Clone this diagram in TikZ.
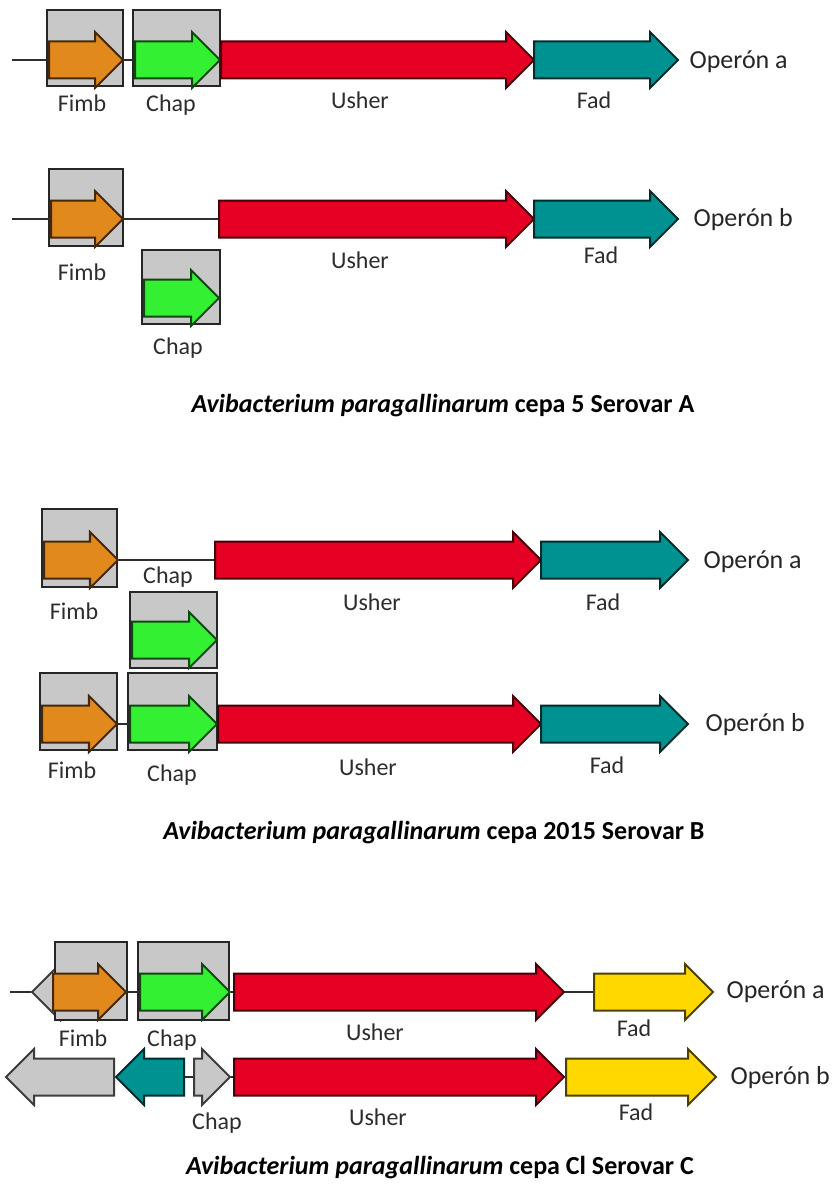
\documentclass[tikz,border=0pt]{standalone}
\usepackage{fontspec}
\setmainfont{Carlito}
\usetikzlibrary{shapes.arrows}

\definecolor{fimbcol}{RGB}{226,137,30}
\definecolor{chapcol}{RGB}{51,240,51}
\definecolor{ushercol}{RGB}{230,0,35}
\definecolor{fadcol}{RGB}{0,145,145}
\definecolor{fadyel}{RGB}{255,216,0}
\definecolor{boxgray}{RGB}{200,200,200}
\definecolor{txtgray}{RGB}{45,45,45}

\tikzset{
  gene/.style={single arrow, anchor=tail, inner sep=0pt, text height=17.5pt, text depth=17.5pt,
    single arrow head extend=9.5pt, line width=2pt, fill=#1, draw=#1!30!black},
  revgene/.style={gene=#1, shape border rotate=180},
  genebox/.style={rectangle, fill=boxgray, draw=black!85, line width=1.8pt, inner sep=0pt},
  dna/.style={draw=txtgray, line width=2pt},
  lbl/.style={font=\fontsize{24}{28}\selectfont, text=txtgray},
  operon/.style={font=\fontsize{26}{30}\selectfont, text=black!85, anchor=west},
  caption/.style={font=\bfseries\fontsize{26}{30}\selectfont}
}

\begin{document}
\begin{tikzpicture}[x=1pt, y=-1pt]
    \path[use as bounding box, fill=white] (0,0) rectangle (833,1196);

    % Serovar A, operon a
    \node[genebox, minimum width=76pt, minimum height=76pt] (boxFa) at (85,48) {};
    \node[genebox, minimum width=87pt, minimum height=76pt] (boxCa) at (176.5,48) {};
    \coordinate (startAa) at (12,60);
    \node[gene=fimbcol, minimum height=74pt] (fimbAa) at (48,60) {};
    \node[gene=chapcol, minimum height=85pt] (chapAa) at (134,60) {};
    \node[gene=ushercol, minimum height=313pt] (usherAa) at (220,60) {};
    \node[gene=fadcol, minimum height=144pt] (fadAa) at (533,60) {};
    \draw[dna] (startAa) -- (fimbAa.tail);
    \draw[dna] (fimbAa.tip) -- (chapAa.tail);
    \node[lbl] (lFimbAa) at (82,103) {Fimb};
    \node[lbl] (lChapAa) at (171,105) {Chap};
    \node[lbl] (lUsherAa) at (360,100) {Usher};
    \node[lbl] (lFadAa) at (594,100) {Fad};
    \node[operon] (opAa) at (686,62) {Operón a};

    % Serovar A, operon b
    \node[genebox, minimum width=74pt, minimum height=77pt] (boxFb) at (86,207.5) {};
    \node[genebox, minimum width=78pt, minimum height=74pt] (boxCb) at (181,287) {};
    \coordinate (startAb) at (12,219);
    \node[gene=fimbcol, minimum height=72pt] (fimbAb) at (50,219) {};
    \node[gene=chapcol, minimum height=75pt] (chapAb) at (143,298) {};
    \node[gene=ushercol, minimum height=315pt] (usherAb) at (218,219) {};
    \node[gene=fadcol, minimum height=144pt] (fadAb) at (533,219) {};
    \draw[dna] (startAb) -- (fimbAb.tail);
    \draw[dna] (fimbAb.tip) -- (usherAb.tail);
    \node[lbl] (lFimbAb) at (82,272) {Fimb};
    \node[lbl] (lChapAb) at (178,348) {Chap};
    \node[lbl] (lUsherAb) at (360,260) {Usher};
    \node[lbl] (lFadAb) at (601,255) {Fad};
    \node[operon] (opAb) at (690,220) {Operón b};

    \node[caption] (capA) at (443,406) {\textit{Avibacterium paragallinarum} cepa 5 Serovar A};

    % Serovar B, operon a
    \node[genebox, minimum width=75pt, minimum height=78pt] (boxFBa) at (79.5,548) {};
    \node[genebox, minimum width=87pt, minimum height=76pt] (boxCBx) at (173.5,630) {};
    \node[gene=fimbcol, minimum height=74pt] (fimbBa) at (43,560) {};
    \node[gene=chapcol, minimum height=85pt] (chapBx) at (131,640) {};
    \node[gene=ushercol, minimum height=326pt] (usherBa) at (214,560) {};
    \node[gene=fadcol, minimum height=147pt] (fadBa) at (540,560) {};
    \draw[dna] (fimbBa.tip) -- (usherBa.tail);
    \node[lbl] (lFimbBa) at (74,611) {Fimb};
    \node[lbl] (lChapBa) at (168,577) {Chap};
    \node[lbl] (lUsherBa) at (372,602) {Usher};
    \node[lbl] (lFadBa) at (603,602) {Fad};
    \node[operon] (opBa) at (700,562) {Operón a};

    % Serovar B, operon b
    \node[genebox, minimum width=77pt, minimum height=77pt] (boxFBb) at (78.5,711.5) {};
    \node[genebox, minimum width=89pt, minimum height=77pt] (boxCBb) at (172.5,711.5) {};
    \node[gene=fimbcol, minimum height=75pt] (fimbBb) at (41,724) {};
    \node[gene=chapcol, minimum height=87pt] (chapBb) at (129,724) {};
    \node[gene=ushercol, minimum height=323pt] (usherBb) at (217,724) {};
    \node[gene=fadcol, minimum height=147pt] (fadBb) at (540,724) {};
    \draw[dna] (fimbBb.tip) -- (chapBb.tail);
    \node[lbl] (lFimbBb) at (72,770) {Fimb};
    \node[lbl] (lChapBb) at (172,775) {Chap};
    \node[lbl] (lUsherBb) at (368,767) {Usher};
    \node[lbl] (lFadBb) at (607,765) {Fad};
    \node[operon] (opBb) at (702,725) {Operón b};

    \node[caption] (capB) at (434,833) {\textit{Avibacterium paragallinarum} cepa 2015 Serovar B};

    % Serovar C, operon a
    \coordinate (startCa) at (10,992);
    \node[revgene=boxgray, minimum height=27pt] (grayCa) at (60,992) {};
    \node[genebox, minimum width=72pt, minimum height=78pt] (boxFCa) at (91,981) {};
    \node[genebox, minimum width=91pt, minimum height=78pt] (boxCCa) at (183.5,981) {};
    \node[gene=fimbcol, minimum height=73pt] (fimbCa) at (52,992) {};
    \node[gene=chapcol, minimum height=90pt] (chapCa) at (139,992) {};
    \node[gene=ushercol, minimum height=330pt] (usherCa) at (233,992) {};
    \node[gene=fadyel, minimum height=119pt] (fadCa) at (593,992) {};
    \draw[dna] (startCa) -- (grayCa.tip);
    \draw[dna] (fimbCa.tip) -- (chapCa.tail);
    \draw[dna] (chapCa.tip) -- (usherCa.tail);
    \draw[dna] (usherCa.tip) -- (fadCa.tail);
    \node[lbl] (lFimbCa) at (83,1038) {Fimb};
    \node[lbl] (lChapCa) at (172,1040) {Chap};
    \node[lbl] (lUsherCa) at (375,1032) {Usher};
    \node[lbl] (lFadCa) at (634,1028) {Fad};
    \node[operon] (opCa) at (723,992) {Operón a};

    % Serovar C, operon b
    \node[revgene=boxgray, minimum height=108pt] (grayLCb) at (115,1077) {};
    \node[revgene=fadcol, minimum height=68pt] (tealCb) at (185,1077) {};
    \node[gene=boxgray, minimum height=36pt] (grayRCb) at (193,1077) {};
    \node[gene=ushercol, minimum height=330pt] (usherCb) at (233,1077) {};
    \node[gene=fadyel, minimum height=150pt] (fadCb) at (565,1077) {};
    \draw[dna] (tealCb.tail) -- (grayRCb.tail);
    \draw[dna] (grayRCb.tip) -- (usherCb.tail);
    \node[lbl] (lChapCb) at (217,1123) {Chap};
    \node[lbl] (lUsherCb) at (378,1117) {Usher};
    \node[lbl] (lFadCb) at (636,1112) {Fad};
    \node[operon] (opCb) at (727,1078) {Operón b};

    \node[caption] (capC) at (440,1168) {\textit{Avibacterium paragallinarum} cepa Cl Serovar C};
\end{tikzpicture}
\end{document}
